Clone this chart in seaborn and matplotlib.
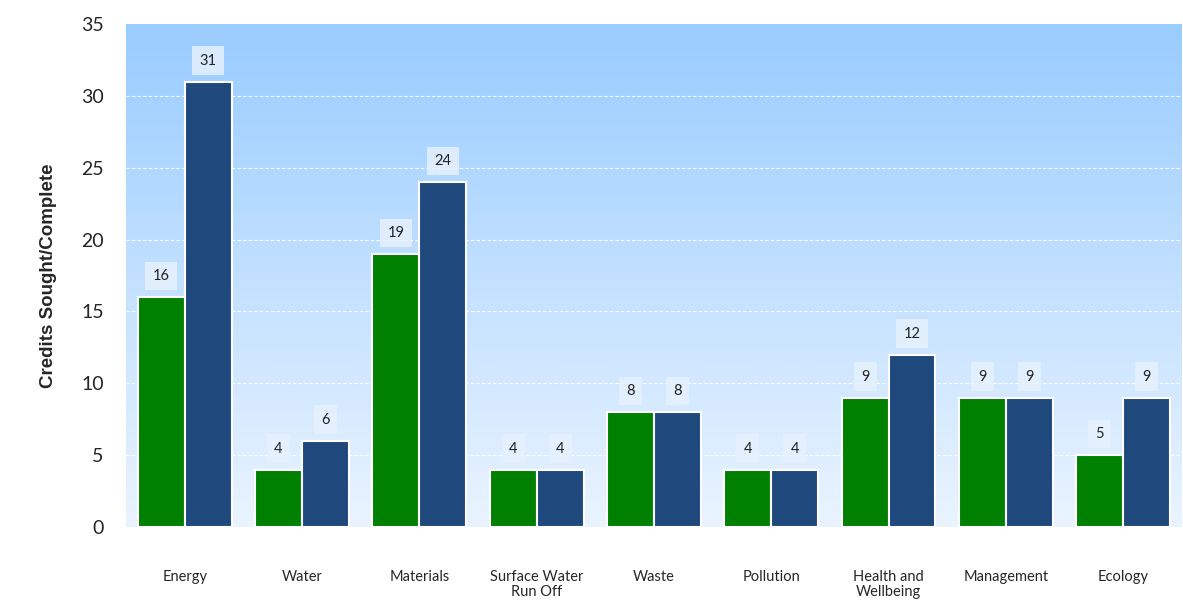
import numpy as np
import pandas as pd
import matplotlib
matplotlib.use("Agg")
import matplotlib.pyplot as plt
from matplotlib.colors import LinearSegmentedColormap
import seaborn as sns

categories = ["Energy", "Water", "Materials", "Surface Water\nRun Off", "Waste",
              "Pollution", "Health and\nWellbeing", "Management", "Ecology"]
series_a_name = "Credits Complete"
series_b_name = "Credits Sought"
series_a = [16, 4, 19, 4, 8, 4, 9, 9, 5]
series_b = [31, 6, 24, 4, 8, 4, 12, 9, 9]
y_ticks = [0, 5, 10, 15, 20, 25, 30, 35]

df = pd.DataFrame({
    "Category": categories * 2,
    "Series": [series_a_name] * len(categories) + [series_b_name] * len(categories),
    "Value": series_a + series_b,
})

sns.set_theme(style="white")
plt.rcParams["font.family"] = ["Lato", "DejaVu Sans"]

fig = plt.figure(figsize=(11.83, 6.02), dpi=100)
ax = fig.add_axes([0.1065, 0.1246, 0.8925, 0.8354])

# gradient background
cmap = LinearSegmentedColormap.from_list("bg", ["#eaf4ff", "#99ccff"])
grad = np.linspace(0, 1, 256).reshape(-1, 1)
ax.imshow(grad, aspect="auto", cmap=cmap, origin="lower",
          extent=[-0.5, len(categories) - 0.5, 0, 35], zorder=0)

sns.barplot(data=df, x="Category", y="Value", hue="Series", ax=ax,
            palette=["#008000", "#1f497d"], width=0.8, edgecolor="white",
            linewidth=1.5, saturation=1, legend=False, zorder=3)

ax.set_xlim(-0.5, len(categories) - 0.5)
ax.set_ylim(0, 35)
ax.set_yticks(y_ticks)
ax.set_yticklabels([str(t) for t in y_ticks], fontsize=14)
for t in y_ticks[1:-1]:
    ax.axhline(t, color="white", linestyle=(0, (3, 2)), linewidth=0.8, zorder=1)

for cont in ax.containers:
    for bar in cont:
        h = bar.get_height()
        ax.annotate(f"{int(h)}", (bar.get_x() + bar.get_width() / 2, h),
                    xytext=(0, 21), textcoords="offset pixels",
                    ha="center", va="center", fontsize=10.5, color="#222222", zorder=5,
                    bbox=dict(boxstyle="square,pad=0.5", fc="#e6f1fd", ec="none", alpha=0.85))

ax.set_xlabel("")
ax.set_ylabel("Credits Sought/Complete", fontsize=13.5, fontweight="bold",
              family=["Liberation Sans", "DejaVu Sans"], labelpad=17)
ax.tick_params(axis="x", labelsize=10.5, pad=31, length=0)
ax.tick_params(axis="y", length=0, pad=16)
for lbl in ax.get_xticklabels():
    lbl.set_va("top")
    lbl.set_linespacing(1.05)
for s in ax.spines.values():
    s.set_visible(False)

fig.savefig("out.png", dpi=100)
